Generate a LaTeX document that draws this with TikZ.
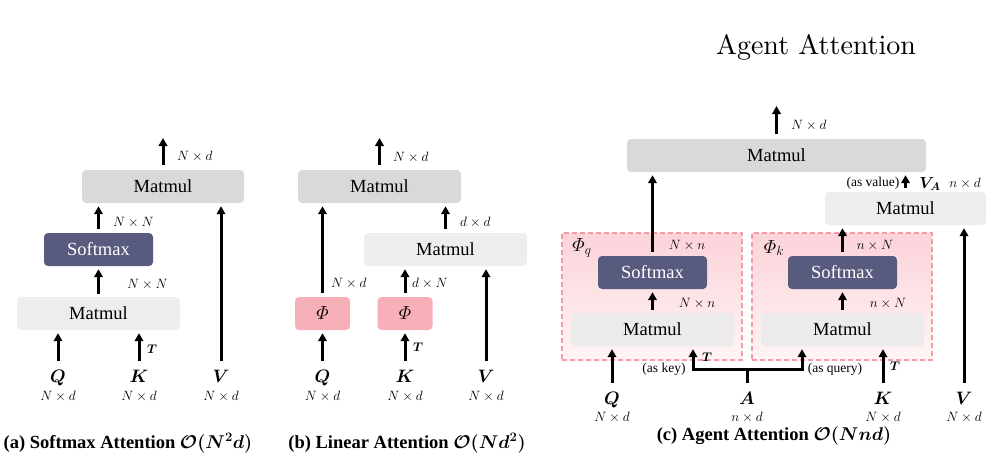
\documentclass[tikz,border=0pt]{standalone}
\usepackage{fix-cm}
\usepackage{amsmath}
\usepackage{fontspec}
\setmainfont{Liberation Serif}
\newfontfamily\lmfont[Extension=.otf]{lmroman10-regular}
\usetikzlibrary{arrows.meta,calc}
\definecolor{mmdark}{HTML}{D9D9D9}
\definecolor{mmlight}{HTML}{EDEDED}
\definecolor{mmpink}{HTML}{EDEAEB}
\definecolor{smblue}{HTML}{585A7E}
\definecolor{phipink}{HTML}{F8B0B8}
\definecolor{agentedge}{HTML}{F29CA6}
\definecolor{agenttop}{HTML}{FBD3D9}
\definecolor{agentbot}{HTML}{FFF4F5}
\tikzset{
    attn diagram/.style = {x=1pt, y=-1pt, >={Triangle[length=8pt, width=8.5pt]}},
    flow/.style         = {->, line width=3pt, shorten >=3pt},
    inflow/.style       = {flow, shorten <=9pt},
    outflow/.style      = {->, line width=3pt, shorten <=5pt},
    block/.style        = {rounded corners=4pt, inner sep=0pt,
                           minimum height=33pt,
                           font=\fontsize{18.5}{20}\selectfont},
    matmul/.style       = {block, fill=mmlight, minimum width=163pt},
    outmatmul/.style    = {matmul, fill=mmdark},
    softmax/.style      = {block, fill=smblue, text=white,
                           minimum width=109pt},
    phibox/.style       = {block, fill=phipink, minimum width=55pt,
                           font=\fontsize{19}{21}\selectfont},
    agentbox/.style     = {draw=agentedge, line width=1.2pt,
                           dash pattern=on 5pt off 3pt,
                           top color=agenttop, bottom color=agentbot,
                           minimum width=180pt, minimum height=127pt},
    phitag/.style       = {font=\fontsize{19}{21}\selectfont, inner sep=1pt},
    tensor/.style       = {font=\fontsize{18}{20}\selectfont, inner sep=0pt,
                           text height=12pt, text depth=3pt},
    dim/.style          = {font=\fontsize{13.5}{15}\selectfont, inner sep=1pt},
    tr/.style           = {font=\fontsize{12.5}{14}\selectfont, inner sep=0pt},
    note/.style         = {font=\fontsize{13.5}{15}\selectfont, inner sep=1pt},
    caption/.style      = {font=\fontsize{18.5}{20}\selectfont\bfseries\boldmath}
}

\begin{document}
\begin{tikzpicture}[attn diagram]
\useasboundingbox (0,0) rectangle (988,460);

% (a) softmax attention
\node[matmul] (mmA1) at (98.5,313.5) {Matmul};
\node[softmax] (smA) at (98.5,249.5) {Softmax};
\node[outmatmul, minimum width=162pt] (mmA2) at (163,186.5) {Matmul};
\node[tensor] (qA) at (58,378) {$\boldsymbol{Q}$};
\node[tensor] (kA) at (139,378) {$\boldsymbol{K}$};
\node[tensor] (vA) at (221,378) {$\boldsymbol{V}$};
\node[dim] (qAdim) at (58,396) {$N\times d$};
\node[dim] (kAdim) at (139,396) {$N\times d$};
\node[dim] (vAdim) at (221,396) {$N\times d$};
\coordinate (outA) at (163,138);
\draw[inflow] (qA) -- (qA |- mmA1.south);
\draw[inflow] (kA) -- (kA |- mmA1.south);
\node[tr] (kAT) at (152,349) {$\boldsymbol{T}$};
\draw[inflow] (vA) -- (vA |- mmA2.south);
\draw[flow, shorten <=3pt] (mmA1.north) -- (smA.south);
\node[dim, anchor=west] (smAin) at (126,284) {$N\times N$};
\draw[flow, shorten <=4pt] (smA.north) -- (smA.north |- mmA2.south);
\node[dim, anchor=west] (smAout) at (112,222) {$N\times N$};
\draw[outflow] (mmA2.north) -- (outA);
\node[dim, anchor=west] (outAdim) at (176,156) {$N\times d$};
\node[caption] (capA) at (128,443)
  {(a) Softmax Attention $\mathcal{O}(N^2d)$};

% (b) linear attention
\node[phibox] (phiB1) at (322.5,313.5) {$\varPhi$};
\node[phibox] (phiB2) at (405,313.5) {$\varPhi$};
\node[matmul] (mmB1) at (445.5,249.5) {Matmul};
\node[outmatmul] (mmB2) at (379.5,186.5) {Matmul};
\node[tensor] (qB) at (322.5,378) {$\boldsymbol{Q}$};
\node[tensor] (kB) at (405,378) {$\boldsymbol{K}$};
\node[tensor] (vB) at (486,378) {$\boldsymbol{V}$};
\node[dim] (qBdim) at (322.5,396) {$N\times d$};
\node[dim] (kBdim) at (405,396) {$N\times d$};
\node[dim] (vBdim) at (486,396) {$N\times d$};
\coordinate (outB) at (379.5,138);
\draw[inflow] (qB) -- (phiB1.south);
\draw[inflow] (kB) -- (phiB2.south);
\node[tr] (kBT) at (418,347) {$\boldsymbol{T}$};
\draw[inflow] (vB) -- (vB |- mmB1.south);
\draw[flow, shorten <=4pt] (phiB1.north) -- (phiB1.north |- mmB2.south);
\node[dim, anchor=west] (phiB1out) at (330,283) {$N\times d$};
\draw[flow, shorten <=4pt] (phiB2.north) -- (phiB2.north |- mmB1.south);
\node[dim, anchor=west] (phiB2out) at (411,283) {$d\times N$};
\draw[flow, shorten <=4pt] (mmB1.north) -- (mmB1.north |- mmB2.south);
\node[dim, anchor=west] (mmB1out) at (459,222) {$d\times d$};
\draw[outflow] (mmB2.north) -- (outB);
\node[dim, anchor=west] (outBdim) at (392,157) {$N\times d$};
\node[caption] (capB) at (407,443)
  {(b) Linear Attention $\mathcal{O}(Nd^2)$};

% (c) agent attention: agents A act as keys for Q and as queries for K
\node[font=\lmfont\fontsize{28}{30}\selectfont] (title) at (816,47)
  {Agent Attention};
\node[agentbox] (boxQ) at (652,296.5) {};
\node[agentbox] (boxK) at (842,296.5) {};
\node[phitag] (phiQ) at (582,248) {$\varPhi_q$};
\node[phitag] (phiK) at (774,248) {$\varPhi_k$};
\node[matmul, fill=mmpink] (mmCq) at (652.5,329.5) {Matmul};
\node[softmax] (smCq) at (652.5,272.5) {Softmax};
\node[matmul, fill=mmpink] (mmCk) at (842.5,329.5) {Matmul};
\node[softmax] (smCk) at (842.5,272.5) {Softmax};
\node[matmul, minimum width=161pt] (mmCv) at (905.5,208.5) {Matmul};
\node[outmatmul, minimum width=299pt] (mmC2) at (776.5,155.5) {Matmul};
\node[tensor] (qC) at (612,400) {$\boldsymbol{Q}$};
\node[tensor] (aC) at (747,400) {$\boldsymbol{A}$};
\node[tensor] (kC) at (883,400) {$\boldsymbol{K}$};
\node[tensor] (vC) at (964,400) {$\boldsymbol{V}$};
\node[dim] (qCdim) at (612,417) {$N\times d$};
\node[dim] (aCdim) at (747,417) {$n\times d$};
\node[dim] (kCdim) at (883,417) {$N\times d$};
\node[dim] (vCdim) at (964,417) {$N\times d$};
\coordinate (aSplit) at (747,369);
\coordinate (keyIn) at (693,369);
\coordinate (queryIn) at (802,369);
\coordinate (outC) at (776.5,106);
\draw[inflow] (qC) -- (qC |- mmCq.south);
\draw[inflow] (kC) -- (kC |- mmCk.south);
\node[tr] (kCT) at (895,366) {$\boldsymbol{T}$};
\draw[inflow] (vC) -- (vC |- mmCv.south);
\draw[line width=3pt, shorten <=9pt] (aC) -- (aSplit);
\draw[flow] (aSplit) -- (keyIn) -- (keyIn |- mmCq.south);
\draw[flow] (aSplit) -- (queryIn) -- (queryIn |- mmCk.south);
\node[tr] (keyT) at (707,357) {$\boldsymbol{T}$};
\node[note] (asKey) at (664,369) {(as key)};
\node[note] (asQuery) at (835,369) {(as query)};
\draw[flow, shorten <=3pt] (mmCq.north) -- (smCq.south);
\node[dim] (smCqin) at (697,303) {$N\times n$};
\draw[flow, shorten <=4pt] (smCq.north) -- (smCq.north |- mmC2.south);
\node[dim] (smCqout) at (687,245) {$N\times n$};
\draw[flow, shorten <=3pt] (mmCk.north) -- (smCk.south);
\node[dim] (smCkin) at (888,303) {$n\times N$};
\draw[flow, shorten <=4pt] (smCk.north) -- (smCk.north |- mmCv.south);
\node[dim] (smCkout) at (875,245) {$n\times N$};
\draw[flow, shorten <=4pt] (mmCv.north) -- (mmCv.north |- mmC2.south);
\node[note] (asValue) at (873,183) {(as value)};
\node[font=\fontsize{16}{18}\selectfont, inner sep=0pt] (vAgent) at (930,184)
  {$\boldsymbol{V_A}$};
\node[dim] (vAgentdim) at (965,183) {$n\times d$};
\draw[outflow] (mmC2.north) -- (outC);
\node[dim, anchor=west] (outCdim) at (790,125) {$N\times d$};
\node[caption] (capC) at (774,436)
  {(c) Agent Attention $\mathcal{O}(Nnd)$};

\end{tikzpicture}
\end{document}
